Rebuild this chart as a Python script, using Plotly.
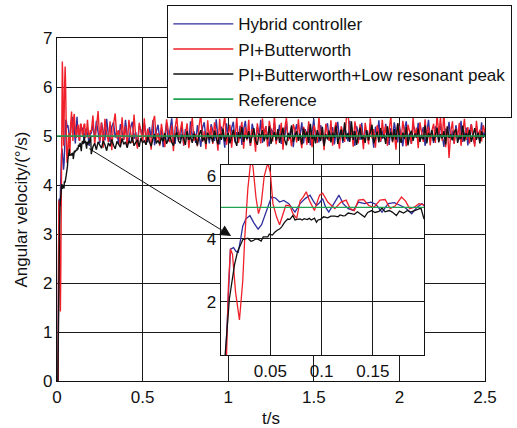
import numpy as np
import plotly.graph_objects as go

# ---------------- data ----------------
# Start-up transient (seconds, deg/s) as seen in the zoomed inset
hyb_t0 = [0, 0.006, 0.011, 0.014, 0.0165, 0.0186, 0.021, 0.023, 0.026, 0.03, 0.034, 0.038, 0.0414,
          0.046, 0.051, 0.055, 0.059, 0.063, 0.068, 0.074, 0.079, 0.084, 0.0887, 0.092, 0.095, 0.098,
          0.101, 0.104, 0.107, 0.112, 0.117, 0.121, 0.126, 0.131, 0.136, 0.142, 0.148, 0.153, 0.159,
          0.165, 0.171, 0.177, 0.182, 0.188, 0.193, 0.198, 0.2]
hyb_y0 = [0, 0, 3.67, 3.72, 3.6, 3.57, 4.0, 4.4, 4.63, 4.74, 4.5, 4.31, 4.45,
          4.9, 5.33, 5.3, 5.17, 5.22, 5.12, 4.85, 5.12, 5.28, 5.39, 5.2, 5.06, 5.15,
          5.28, 5.0, 4.85, 5.12, 5.39, 5.12, 4.96, 4.9, 5.17, 5.12, 5.17, 5.1, 4.85,
          5.12, 5.15, 5.06, 4.98, 4.8, 5.0, 5.12, 5.05]

pib_t0 = [0, 0.007, 0.009, 0.011, 0.013, 0.016, 0.0198, 0.022, 0.023, 0.025, 0.028, 0.031, 0.033,
          0.036, 0.0384, 0.041, 0.044, 0.0475, 0.05, 0.0525, 0.056, 0.059, 0.062, 0.065, 0.069,
          0.072, 0.0757, 0.079, 0.082, 0.085, 0.088, 0.093, 0.098, 0.101, 0.106, 0.113, 0.119,
          0.124, 0.128, 0.132, 0.136, 0.141, 0.146, 0.151, 0.157, 0.162, 0.167, 0.172, 0.178,
          0.182, 0.186, 0.19, 0.195, 0.2]
pib_y0 = [0, 0, 2.5, 3.68, 3.5, 2.3, 1.42, 2.2, 2.65, 4.04, 5.6, 6.52, 6.3,
          5.3, 4.8, 5.1, 6.0, 6.42, 6.1, 5.12, 4.7, 4.45, 4.75, 5.06, 5.06,
          4.8, 4.65, 5.2, 5.33, 5.5, 5.23, 4.9, 5.39, 5.45, 5.17, 4.96, 5.17,
          5.23, 4.96, 4.9, 5.23, 5.25, 5.06, 5.0, 5.23, 5.25, 4.96, 5.05, 5.33,
          5.2, 4.96, 5.0, 5.12, 5.08]

low_t0 = [0, 0.005, 0.0057, 0.01, 0.015, 0.018, 0.023, 0.028, 0.031, 0.033, 0.036, 0.038, 0.041,
          0.043, 0.0475, 0.049, 0.052, 0.054, 0.057, 0.059, 0.061, 0.064, 0.067, 0.069, 0.072,
          0.074, 0.076, 0.079, 0.081, 0.083, 0.086, 0.088, 0.09, 0.093, 0.095, 0.0966, 0.099,
          0.102, 0.106, 0.109, 0.113, 0.116, 0.118, 0.121, 0.123, 0.126, 0.129, 0.132, 0.135,
          0.138, 0.142, 0.145, 0.149, 0.152, 0.156, 0.159, 0.162, 0.166, 0.169, 0.173, 0.176,
          0.18, 0.184, 0.187, 0.191, 0.194, 0.197, 0.2]
low_y0 = [0, 0, 0.25, 2.1, 3.18, 3.6, 3.97, 4.02, 3.92, 3.94, 4.0, 3.99, 3.93,
          4.06, 4.06, 4.15, 4.12, 4.2, 4.28, 4.31, 4.38, 4.53, 4.63, 4.62, 4.74,
          4.6, 4.62, 4.63, 4.6, 4.64, 4.61, 4.65, 4.6, 4.66, 4.53, 4.6, 4.62,
          4.7, 4.67, 4.72, 4.72, 4.7, 4.76, 4.73, 4.74, 4.82, 4.8, 4.78, 4.86,
          4.79, 4.69, 4.84, 4.9, 4.84, 4.87, 4.98, 4.86, 4.9, 4.85, 4.74, 4.88,
          4.82, 4.9, 4.85, 4.9, 4.95, 4.98, 4.63]

# Steady-state samples, one every 0.01 s from 0.21 s to 2.50 s
hyb_ss = [5.22, 4.95, 5.31, 5.08, 4.86, 5.27, 5.12, 4.91, 5.35, 5.02,
          4.88, 5.19, 5.28, 4.97, 5.11, 4.83, 5.24, 5.06, 4.92, 5.33,
          5.01, 4.85, 5.17, 5.29, 4.94, 5.08, 4.79, 5.21, 5.13, 4.9,
          5.26, 5.04, 4.87, 5.18, 4.96, 5.32, 4.81, 5.09, 5.23, 4.93,
          5.15, 4.77, 5.02, 5.27, 4.89, 5.12, 5.36, 4.95, 4.84, 5.2,
          5.07, 4.92, 5.25, 4.8, 5.14, 5.03, 4.88, 5.3, 4.97, 5.1,
          4.86, 5.22, 5.0, 4.78, 5.17, 5.28, 4.93, 5.06, 4.85, 5.24,
          5.11, 4.9, 5.34, 4.98, 4.83, 5.19, 5.05, 4.76, 5.26, 5.0,
          4.91, 5.16, 5.29, 4.87, 5.08, 4.95, 5.21, 4.82, 5.13, 5.31,
          4.94, 5.03, 4.8, 5.25, 5.1, 4.89, 5.18, 4.97, 5.33, 4.86,
          5.07, 5.2, 4.92, 4.79, 5.15, 5.04, 5.27, 4.88, 5.0, 5.23,
          4.84, 5.12, 4.96, 5.3, 4.9, 5.06, 5.19, 4.77, 5.09, 5.24,
          4.93, 5.01, 5.28, 4.85, 5.14, 4.98, 5.21, 4.81, 5.11, 5.35,
          4.95, 5.07, 4.87, 5.22, 5.02, 4.78, 5.17, 5.26, 4.91, 5.04,
          5.18, 4.83, 5.09, 5.29, 4.94, 5.13, 4.86, 5.23, 5.0, 4.89,
          5.31, 4.97, 5.1, 4.8, 5.2, 5.05, 4.92, 5.27, 4.85, 5.15,
          5.02, 4.9, 5.24, 5.08, 4.76, 5.19, 4.99, 5.32, 4.88, 5.11,
          4.95, 5.25, 5.03, 4.82, 5.16, 4.93, 5.28, 5.06, 4.87, 5.21,
          5.0, 4.79, 5.14, 5.3, 4.91, 5.07, 4.84, 5.23, 5.12, 4.96,
          5.27, 4.89, 5.05, 5.18, 4.8, 5.1, 5.33, 4.94, 5.02, 4.86,
          5.2, 5.08, 4.9, 5.26, 4.97, 4.78, 5.15, 5.04, 5.29, 4.92,
          5.11, 4.85, 5.22, 5.0, 4.93, 5.31, 4.88, 5.06, 5.17, 4.81,
          5.09, 5.24, 4.95, 4.83, 5.19, 5.03, 4.9, 5.28, 4.97, 5.12]

pib_ss = [5.42, 4.82, 5.18, 5.51, 4.9, 5.28, 4.76, 5.35, 5.05, 4.88,
          5.3, 4.71, 5.24, 5.46, 4.95, 5.12, 4.8, 5.38, 4.93, 5.2,
          4.78, 5.33, 5.08, 4.86, 5.44, 4.97, 4.74, 5.27, 5.1, 4.89,
          5.36, 4.83, 5.15, 5.02, 4.72, 5.29, 5.41, 4.91, 5.06, 4.8,
          5.25, 4.98, 4.77, 5.34, 5.11, 4.87, 5.22, 4.69, 5.17, 5.39,
          4.92, 5.08, 5.3, 4.81, 5.0, 5.26, 4.75, 5.13, 5.37, 4.9,
          5.04, 4.79, 5.21, 5.43, 4.88, 5.1, 4.73, 5.32, 4.96, 5.19,
          4.84, 5.28, 5.07, 4.7, 5.35, 4.93, 5.16, 5.4, 4.82, 5.01,
          5.23, 4.76, 5.12, 4.95, 5.38, 4.86, 5.05, 5.29, 4.74, 5.18,
          4.91, 5.33, 4.8, 5.14, 5.02, 4.68, 5.26, 5.09, 4.85, 5.36,
          4.97, 5.2, 4.78, 5.31, 5.06, 4.89, 5.42, 4.83, 5.11, 4.94,
          5.27, 4.72, 5.15, 5.37, 4.9, 5.03, 4.79, 5.24, 5.12, 4.87,
          5.34, 4.95, 4.75, 5.19, 5.08, 4.82, 5.3, 5.01, 4.77, 5.22,
          5.1, 4.86, 5.39, 4.93, 5.16, 4.71, 5.25, 5.05, 4.9, 5.32,
          4.8, 5.13, 5.28, 4.96, 4.74, 5.2, 5.07, 4.88, 5.35, 5.52,
          4.91, 5.18, 4.78, 5.3, 5.02, 4.85, 5.24, 5.1, 4.73, 5.27,
          5.06, 4.83, 5.36, 4.95, 5.14, 4.76, 5.22, 5.03, 4.89, 5.33,
          4.98, 5.21, 4.8, 5.12, 5.4, 4.87, 5.05, 4.72, 5.26, 5.15,
          4.9, 5.31, 5.02, 4.79, 5.23, 5.09, 4.84, 5.37, 4.97, 5.17,
          4.75, 5.28, 5.06, 4.88, 5.34, 4.93, 5.19, 4.81, 5.11, 5.25,
          4.86, 5.45, 5.03, 5.38, 4.9, 5.5, 4.77, 5.2, 4.55, 5.08,
          5.3, 4.84, 5.15, 4.97, 5.27, 4.8, 5.09, 5.35, 4.92, 5.18,
          4.85, 5.24, 5.04, 4.78, 5.31, 4.96, 5.13, 4.89, 5.22, 5.07]

low_ss = [4.78, 4.85, 4.72, 4.88, 4.8, 4.75, 4.9, 4.82, 4.7, 4.86,
          4.79, 4.93, 4.81, 4.74, 4.89, 4.84, 4.77, 4.95, 4.83, 4.88,
          4.76, 4.9, 4.85, 4.98, 4.8, 4.87, 4.92, 4.78, 4.96, 4.86,
          4.9, 4.82, 5.0, 4.88, 4.79, 4.94, 5.04, 4.85, 4.91, 4.83,
          4.97, 4.89, 5.06, 4.84, 4.93, 5.01, 4.87, 4.8, 4.98, 5.08,
          4.9, 4.85, 5.03, 4.95, 4.82, 5.1, 4.92, 4.99, 4.86, 5.05,
          4.94, 4.81, 5.02, 5.12, 4.9, 4.97, 4.84, 5.07, 4.93, 5.0,
          4.87, 5.11, 4.96, 4.83, 5.04, 4.92, 5.15, 4.89, 4.98, 5.06,
          4.85, 5.0, 5.13, 4.91, 4.8, 5.08, 4.95, 5.18, 4.88, 5.02,
          4.94, 5.1, 4.86, 5.0, 5.16, 4.9, 4.82, 5.05, 4.97, 5.12,
          4.89, 5.03, 4.93, 5.2, 4.84, 4.99, 5.08, 4.91, 5.14, 4.86,
          5.01, 5.17, 4.92, 4.81, 5.06, 4.95, 5.22, 4.88, 5.0, 5.1,
          4.9, 5.05, 4.83, 5.15, 4.97, 5.09, 4.86, 5.25, 4.94, 5.02,
          4.85, 5.12, 4.99, 4.9, 5.19, 4.8, 5.04, 4.93, 5.11, 4.87,
          5.07, 4.96, 5.21, 4.84, 5.0, 5.13, 4.9, 5.28, 4.95, 5.06,
          4.88, 5.3, 4.92, 5.1, 4.82, 5.04, 5.17, 4.93, 5.0, 4.86,
          5.12, 4.91, 5.05, 5.23, 4.85, 4.98, 5.09, 4.87, 5.16, 4.95,
          5.03, 4.84, 5.2, 4.96, 5.08, 4.89, 5.14, 4.92, 5.26, 4.99,
          4.86, 5.07, 4.94, 5.18, 4.81, 5.01, 5.11, 4.9, 5.05, 4.97,
          5.15, 4.88, 5.02, 4.93, 5.22, 4.85, 5.06, 4.98, 5.12, 4.9,
          5.0, 5.17, 4.87, 5.04, 4.95, 5.1, 4.83, 5.19, 4.96, 5.03,
          4.91, 5.08, 5.14, 4.86, 5.01, 4.94, 5.21, 4.89, 5.06, 4.98,
          5.12, 4.88, 5.03, 5.16, 4.92, 5.07, 4.85, 5.1, 4.97, 5.04]

ss_t = [round(0.21 + 0.01 * i, 2) for i in range(len(hyb_ss))]

ref_t = [0, 2.5]
ref_y = [5, 5]

series_names = ["Hybrid controller", "PI+Butterworth",
                "PI+Butterworth+Low resonant peak", "Reference"]
colors = ["#2e2e9c", "#f0202a", "#111111", "#1fa352"]

x_ticks_main = [0, 0.5, 1, 1.5, 2, 2.5]
x_labels_main = ["0", "0.5", "1", "1.5", "2", "2.5"]
y_ticks_main = [0, 1, 2, 3, 4, 5, 6, 7]
x_ticks_inset = [0.05, 0.1, 0.15]
x_labels_inset = ["0.05", "0.1", "0.15"]
y_ticks_inset = [2, 4, 6]
y_title = "Angular velocity/(°/s)"
x_title = "t/s"

# ---------------- figure ----------------
FONT = "Arial, Liberation Sans, sans-serif"
fig = go.Figure()

full = [(hyb_t0 + ss_t, hyb_y0 + hyb_ss),
        (pib_t0 + ss_t, pib_y0 + pib_ss),
        (low_t0 + ss_t, low_y0 + low_ss),
        (ref_t, ref_y)]
for i, (tt, yy) in enumerate(full):
    fig.add_trace(go.Scatter(x=tt, y=yy, mode="lines", name=series_names[i],
                             legendgroup=f"g{i}",
                             line=dict(color=colors[i], width=1.4 if i < 3 else 1.7),
                             xaxis="x", yaxis="y"))

inset = [(hyb_t0, hyb_y0), (pib_t0, pib_y0), (low_t0, low_y0), (ref_t, ref_y)]
for i, (tt, yy) in enumerate(inset):
    fig.add_trace(go.Scatter(x=tt, y=yy, mode="lines", showlegend=False,
                             line=dict(color=colors[i], width=1.3),
                             xaxis="x2", yaxis="y2"))

axis_common = dict(showgrid=True, gridcolor="#1a1a1a", gridwidth=1, zeroline=False,
                   showline=True, linecolor="#111", linewidth=1.3, mirror=True,
                   ticks="", tickfont=dict(family=FONT, size=17, color="#111"))

fig.update_layout(
    width=517, height=428,
    margin=dict(l=57, r=32, t=38, b=47, autoexpand=False),
    paper_bgcolor="white", plot_bgcolor="white",
    font=dict(family=FONT, size=17, color="#111"),
    xaxis=dict(range=[0, 2.5], tickvals=x_ticks_main, ticktext=x_labels_main,
               title=dict(text=x_title, font=dict(size=17)), **axis_common),
    yaxis=dict(range=[0, 7], tickvals=y_ticks_main, **axis_common),
    xaxis2=dict(domain=[0.3825, 0.8575], anchor="y2", range=[0.0015, 0.2],
                tickvals=x_ticks_inset, ticktext=x_labels_inset, **axis_common),
    yaxis2=dict(domain=[0.0758, 0.6297], anchor="x2", range=[0.3, 6.35],
                tickvals=y_ticks_inset, **axis_common),
    legend=dict(x=167 / 517, y=1 - 5 / 428, xref="container", yref="container",
                xanchor="left", yanchor="top",
                bgcolor="white", bordercolor="#111", borderwidth=1.3,
                font=dict(family=FONT, size=17, color="#111"),
                itemwidth=60, tracegroupgap=0),
    showlegend=True,
)

# y-axis title (left of the tick labels)
fig.add_annotation(text=y_title, textangle=-90, xref="paper", yref="paper",
                   x=-0.084, y=0.5, xanchor="center", yanchor="middle",
                   showarrow=False, font=dict(family=FONT, size=17, color="#111"))

# white background of the inset (hides the main curves beneath it)
fig.add_shape(type="rect", xref="x2 domain", yref="y2 domain", x0=0, x1=1, y0=0, y1=1,
              fillcolor="white", line=dict(width=0), layer="below")

# arrow from the main transient to the inset
fig.add_annotation(x=1.017, y=2.96, ax=0.18, ay=4.76, xref="x", yref="y",
                   axref="x", ayref="y", text="", showarrow=True,
                   arrowhead=2, arrowsize=2.2, arrowwidth=1, arrowcolor="#111", standoff=0)

fig.write_html("out.html", config={"displayModeBar": False},
               post_script="document.body.style.margin='0';")
